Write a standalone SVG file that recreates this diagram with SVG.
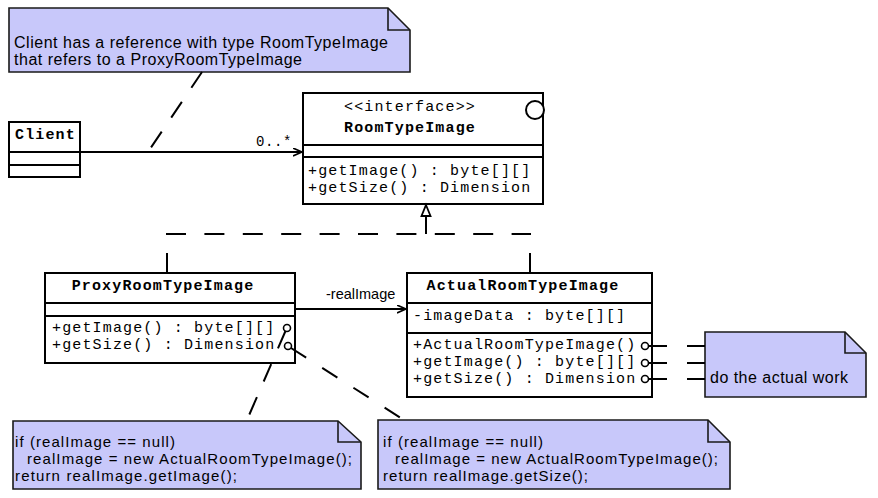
<svg xmlns="http://www.w3.org/2000/svg" width="878" height="498" viewBox="0 0 878 498">
<style>
.box{fill:#fff;stroke:#000;stroke-width:2}
.div{stroke:#000;stroke-width:2}
.note{fill:#c8c8fa;stroke:#1a1a1a;stroke-width:1.6}
.fold{fill:none;stroke:#1a1a1a;stroke-width:1.6}
.mono{font-family:"Liberation Mono","Courier New",monospace;font-size:15px;letter-spacing:1.15px;fill:#000}
.bold{font-weight:bold}
.sans{font-family:"Liberation Sans",Arial,sans-serif;font-size:15px;fill:#000}
.lbl{font-family:"Liberation Sans",Arial,sans-serif;font-size:14.5px;fill:#000}
.assoc{stroke:#000;stroke-width:1.8;fill:none}
.dash{stroke:#000;stroke-width:2;fill:none;stroke-dasharray:20 18.4}
.ndash{stroke:#000;stroke-width:2;fill:none;stroke-dasharray:19 17}
.solid{stroke:#000;stroke-width:2;fill:none}
.lol{fill:#fff;stroke:#000;stroke-width:1.6}
</style>
<defs>
<marker id="open" markerUnits="userSpaceOnUse" markerWidth="12" markerHeight="10" refX="9" refY="4" orient="auto">
<path d="M0,0 L9,4 L0,8" fill="none" stroke="#000" stroke-width="1.6"/>
</marker>
</defs>

<g id="note-client">
<path class="note" d="M9,8 H388 L410,30 V72 H9 Z"/>
<path class="fold" d="M388,8 V30 H410"/>
<text class="sans" x="14" y="48" style="font-size:16px" textLength="374" lengthAdjust="spacing">Client has a reference with type RoomTypeImage</text>
<text class="sans" x="14" y="65" style="font-size:16px" textLength="288" lengthAdjust="spacing">that refers to a ProxyRoomTypeImage</text>
</g>

<g id="client">
<rect class="box" x="9" y="122" width="71" height="55"/>
<line class="div" x1="9" y1="152" x2="80" y2="152"/>
<line class="div" x1="9" y1="165" x2="80" y2="165"/>
<text class="mono bold" x="15" y="139">Client</text>
</g>

<g id="roomtypeimage">
<rect class="box" x="303" y="93" width="240" height="111"/>
<line class="div" x1="303" y1="145" x2="543" y2="145"/>
<line class="div" x1="303" y1="157" x2="543" y2="157"/>
<circle cx="535" cy="110" r="9" fill="#fff" stroke="#000" stroke-width="2"/>
<text class="mono" x="410" y="111" text-anchor="middle">&lt;&lt;interface&gt;&gt;</text>
<text class="mono bold" x="410" y="132" text-anchor="middle">RoomTypeImage</text>
<text class="mono" x="308" y="175">+getImage() : byte[][]</text>
<text class="mono" x="308" y="192">+getSize() : Dimension</text>
</g>

<g id="proxy">
<rect class="box" x="45" y="273" width="250" height="90"/>
<line class="div" x1="45" y1="303" x2="295" y2="303"/>
<line class="div" x1="45" y1="316" x2="295" y2="316"/>
<text class="mono bold" x="163" y="290" text-anchor="middle">ProxyRoomTypeImage</text>
<text class="mono" x="52" y="332">+getImage() : byte[][]</text>
<text class="mono" x="52" y="349">+getSize() : Dimension</text>
<circle class="lol" cx="287" cy="328" r="3.5"/>
<circle class="lol" cx="288" cy="346" r="3.5"/>
</g>

<g id="actual">
<rect class="box" x="407" y="273" width="245" height="124"/>
<line class="div" x1="407" y1="303" x2="652" y2="303"/>
<line class="div" x1="407" y1="333" x2="652" y2="333"/>
<text class="mono bold" x="523" y="290" text-anchor="middle">ActualRoomTypeImage</text>
<text class="mono" x="413" y="320">-imageData : byte[][]</text>
<text class="mono" x="413" y="349">+ActualRoomTypeImage()</text>
<text class="mono" x="413" y="366">+getImage() : byte[][]</text>
<text class="mono" x="413" y="383">+getSize() : Dimension</text>
<circle class="lol" cx="645" cy="346" r="3.5"/>
<circle class="lol" cx="645" cy="363" r="3.5"/>
<circle class="lol" cx="645" cy="379" r="3.5"/>
</g>

<g id="note-actual">
<path class="note" d="M705,332 H845 L866,353 V397 H705 Z"/>
<path class="fold" d="M845,332 V353 H866"/>
<text class="sans" x="710" y="383" style="font-size:16px" textLength="138" lengthAdjust="spacing">do the actual work</text>
</g>

<g id="note-getimage">
<path class="note" d="M13,421 H338 L361,442 V489 H13 Z"/>
<path class="fold" d="M338,421 V442 H361"/>
<text class="sans" x="15" y="447" textLength="160" lengthAdjust="spacing">if (realImage == null)</text>
<text class="sans" x="27" y="464" textLength="325" lengthAdjust="spacing">realImage = new ActualRoomTypeImage();</text>
<text class="sans" x="15" y="481" textLength="222" lengthAdjust="spacing">return realImage.getImage();</text>
</g>

<g id="note-getsize">
<path class="note" d="M378,420 H708 L730,442 V489 H378 Z"/>
<path class="fold" d="M708,420 V442 H730"/>
<text class="sans" x="383" y="447" textLength="160" lengthAdjust="spacing">if (realImage == null)</text>
<text class="sans" x="395" y="464" textLength="323" lengthAdjust="spacing">realImage = new ActualRoomTypeImage();</text>
<text class="sans" x="383" y="481" textLength="205" lengthAdjust="spacing">return realImage.getSize();</text>
</g>

<g id="connectors">
<line class="assoc" x1="80" y1="152" x2="302" y2="152" marker-end="url(#open)"/>
<text class="mono" x="256" y="146" style="font-size:14px;letter-spacing:0.6px">0..*</text>
<line class="ndash" x1="202" y1="72" x2="148" y2="152"/>
<line class="assoc" x1="295" y1="309" x2="406" y2="309" marker-end="url(#open)"/>
<text class="lbl" x="326" y="299">-realImage</text>
<line class="solid" x1="167" y1="253" x2="167" y2="273"/>
<line class="solid" x1="530" y1="253" x2="530" y2="273"/>
<line class="dash" x1="166" y1="234" x2="531" y2="234"/>
<line class="solid" x1="426" y1="216" x2="426" y2="234"/>
<path d="M426,205 L430.5,216 L421.5,216 Z" fill="#fff" stroke="#000" stroke-width="1.8"/>
<line class="ndash" x1="285.5" y1="331" x2="247" y2="420"/>
<line class="ndash" x1="291" y1="348" x2="404" y2="420" style="stroke-dasharray:18 19"/>
<line class="solid" x1="648.5" y1="346" x2="667" y2="346"/>
<line class="solid" x1="687" y1="346" x2="705" y2="346"/>
<line class="solid" x1="648.5" y1="363" x2="667" y2="363"/>
<line class="solid" x1="687" y1="363" x2="705" y2="363"/>
<line class="solid" x1="648.5" y1="379" x2="667" y2="379"/>
<line class="solid" x1="687" y1="379" x2="705" y2="379"/>
</g>
</svg>
